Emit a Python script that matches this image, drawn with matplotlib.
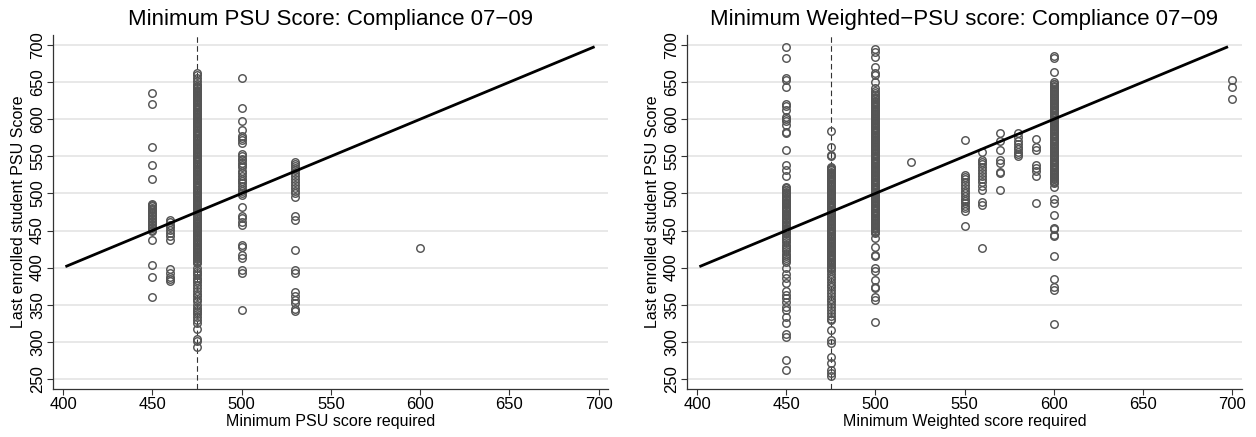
import matplotlib
matplotlib.use("Agg")
import matplotlib.pyplot as plt

plt.rcParams['font.family'] = ['Liberation Sans', 'DejaVu Sans']

# ---------------- data: left panel (Minimum PSU score) ----------------
psu_x450 = [635, 621, 563, 538, 519, 486, 485, 483, 481, 479, 477, 475, 473, 471, 469,
            467, 465, 463, 461, 459, 457, 455, 453, 451, 449, 437, 403, 388, 360]
psu_x460 = [464, 461, 458, 455, 451, 447, 443, 437, 398, 393, 388, 385, 382]
psu_x475 = [662, 660, 655, 652,
            647, 645, 644, 642, 640, 638, 637, 635, 633, 631, 630, 628, 626, 624, 623, 621,
            619, 617, 616, 614, 612, 610, 609, 607, 605, 603, 602, 600, 598, 596, 595, 593,
            591, 589, 588, 586, 584, 582, 581, 579, 577, 575, 574, 572, 570, 568, 567, 565,
            563, 561, 560, 558, 556, 554, 553, 551, 549, 547, 546, 544, 542, 540, 539, 537,
            535, 533, 532, 530, 528, 526, 525, 523, 521, 519, 518, 516, 514, 512, 511, 509,
            507, 505, 504, 502, 500, 498, 497, 495, 493, 491, 490, 488, 486, 484, 483, 481,
            479, 477, 476, 474, 472, 470, 469, 467, 465, 463, 462, 460, 458, 456, 455, 453,
            451, 449, 448, 446, 444, 442, 441, 439, 437, 435, 434, 432, 430, 428, 427, 425,
            423, 421, 420, 418, 416, 414, 413, 411, 409, 407, 406,
            400, 396, 393, 390, 386, 383, 380, 376, 372, 368, 365, 362, 358, 355, 350,
            346, 343, 340, 337, 333, 330, 326, 317, 304, 301, 293]
psu_x500 = [655, 615, 597, 586, 578, 575, 572, 568, 553, 550, 547, 545, 541, 538, 536, 530,
            527, 524, 520, 517, 514, 510, 506, 503, 500, 498, 482, 470, 467, 462, 457, 430,
            428, 417, 413, 397, 393, 343]
psu_x530 = [543, 540, 537, 534, 531, 528, 524, 520, 515, 511, 507, 503, 500, 495, 469, 464,
            424, 397, 393, 367, 362, 357, 352, 344, 342]
psu_x600 = [426]

# ---------------- data: right panel (Minimum Weighted score) ----------------
w_x450 = [697, 683, 655, 653, 643, 621, 618, 612, 603, 600, 597, 592, 583, 581, 559, 538,
          531, 524,
          508, 507, 505, 504, 502, 500, 499, 497, 496, 494, 492, 491, 489, 487, 486, 484,
          482, 481, 479, 477, 476, 474, 472, 471, 469, 467, 466, 464, 462, 461, 459, 457,
          456, 454, 452, 451, 449, 447, 446,
          443, 440, 437, 434, 431, 428, 425, 422, 419, 416, 413, 410, 407,
          399, 392, 386, 379, 368, 363, 359, 354, 347, 343, 334, 325, 311, 307, 275, 262]
w_x475 = [584, 562, 552, 550,
          536, 534, 533, 531, 529, 527, 526, 524, 522, 520, 519, 517, 515, 513, 512, 510,
          508, 506, 505, 503, 501, 499, 498, 496, 494, 492, 491, 489, 487, 485, 484, 482,
          480, 478, 477, 475, 473, 471, 470, 468, 466, 464, 463, 461, 459, 457, 456, 454,
          452, 450, 449, 447, 445, 443, 442, 440, 438, 436, 435, 433, 431, 429, 428, 426,
          424, 422, 421, 419, 417, 415, 414, 412, 410, 408, 407, 405, 403, 401, 400, 398,
          396,
          392, 388, 385, 381, 377, 374, 370, 366, 362, 358, 355, 351, 347, 343, 339, 335,
          331, 329, 316, 302, 298, 280, 271, 262, 258, 254]
w_x500 = [695, 691, 684, 670, 662, 660, 650, 642, 638, 635, 632,
          630, 628, 627, 625, 623, 621, 620, 618, 616, 614, 613, 611, 609, 607, 606, 604,
          602, 600, 599, 597, 595, 593, 592, 590, 588, 586, 585, 583, 581, 579, 578, 576,
          574, 572, 571, 569, 567, 565, 564, 562, 560, 558, 557, 555, 553, 551, 550, 548,
          546, 544, 543, 541, 539, 537, 536, 534, 532, 530, 529, 527, 525, 523, 522, 520,
          518, 516, 515, 513, 511, 509, 508, 506, 504, 502, 501, 499, 497, 495, 494, 492,
          490, 488, 487, 485, 483, 481, 480, 478, 476, 474, 473, 471, 469, 467, 466, 464,
          462, 460, 459, 457, 455, 453, 452, 450, 448, 447,
          440, 428, 417, 415, 399, 395, 383, 374, 372, 361, 356, 327]
w_x520 = [543]
w_x550 = [572, 525, 522, 519, 515, 511, 507, 503, 500, 497, 493, 490, 487, 483, 480, 476, 456]
w_x560 = [556, 545, 542, 539, 536, 532, 528, 524, 520, 515, 510, 505, 489, 485, 427]
w_x570 = [581, 570, 558, 545, 541, 529, 527, 505]
w_x580 = [581, 576, 570, 566, 563, 560, 556, 553, 550]
w_x590 = [574, 563, 559, 538, 534, 530, 523, 487]
w_x600 = [685, 682, 663,
          650, 648, 647, 645, 643, 641, 640, 638, 636, 634, 633, 631, 629, 627, 626, 624,
          622, 620, 619, 617, 615, 613, 612, 610, 608, 606, 605, 603, 601, 599, 598, 596,
          594, 592, 591, 589, 587, 585, 584, 582, 580, 578, 577, 575, 573, 571, 570, 568,
          566, 564, 563, 561, 559, 557, 556, 554, 552, 550, 549, 547, 545, 543, 542, 540,
          538, 536, 535, 533, 531, 529, 528, 526, 524, 522, 521, 519, 517, 515, 514,
          509, 493, 487, 471, 453, 452, 444, 442, 415, 384, 374, 370, 324]
w_x700 = [653, 644, 627]

left_groups = {450: psu_x450, 460: psu_x460, 475: psu_x475, 500: psu_x500,
               530: psu_x530, 600: psu_x600}
right_groups = {450: w_x450, 475: w_x475, 500: w_x500, 520: w_x520, 550: w_x550,
                560: w_x560, 570: w_x570, 580: w_x580, 590: w_x590, 600: w_x600,
                700: w_x700}

fit_x = [402, 697]
fit_y = [402, 697]
cutoff = 475

x_ticks = [400, 450, 500, 550, 600, 650, 700]
y_ticks = [250, 300, 350, 400, 450, 500, 550, 600, 650, 700]

titles = ["Minimum PSU Score: Compliance 07\u221209",
          "Minimum Weighted\u2212PSU score: Compliance 07\u221209"]
xlabels = ["Minimum PSU score required", "Minimum Weighted score required"]
ylabel = "Last enrolled student PSU Score"

# ---------------- figure ----------------
W, H = 1256, 437
fig = plt.figure(figsize=(W / 100, H / 100), dpi=100)
ax_left = fig.add_axes([53.3 / W, 1 - 389 / H, 555 / W, 354 / H])
ax_right = fig.add_axes([687.3 / W, 1 - 389 / H, 554.4 / W, 354 / H])

for ax, groups, title, xl in [(ax_left, left_groups, titles[0], xlabels[0]),
                              (ax_right, right_groups, titles[1], xlabels[1])]:
    ax.set_xlim(394.5, 705.4)
    ax.set_ylim(236.4, 713.5)
    for yt in y_ticks:
        ax.axhline(yt, color='#e4e4e4', lw=1.2, zorder=0)
    for xv, ys in groups.items():
        ax.plot([xv] * len(ys), ys, linestyle='none', marker='o', markersize=5.4,
                markerfacecolor='none', markeredgecolor='#555555',
                markeredgewidth=1.05, zorder=2)
    ax.plot(fit_x, fit_y, color='black', lw=2.0, zorder=3)
    ax.axvline(cutoff, color='#333333', lw=0.8, linestyle=(0, (5, 3)), zorder=1)
    ax.set_xticks(x_ticks)
    ax.set_yticks(y_ticks)
    ax.tick_params(axis='both', direction='out', length=4, width=0.8,
                   color='#333333', labelsize=12, labelcolor='black')
    ax.tick_params(axis='y', pad=2)
    ax.tick_params(axis='x', pad=2)
    for lab in ax.get_yticklabels():
        lab.set_rotation(90)
        lab.set_va('center')
    for s in ['top', 'right']:
        ax.spines[s].set_visible(False)
    for s in ['left', 'bottom']:
        ax.spines[s].set_color('#333333')
        ax.spines[s].set_linewidth(0.9)
    ax.set_title(title, fontsize=16, pad=7)
    ax.set_xlabel(xl, fontsize=11.5, labelpad=1)
    ax.set_ylabel(ylabel, fontsize=11.5, labelpad=3)

fig.savefig("out.png", dpi=100)
